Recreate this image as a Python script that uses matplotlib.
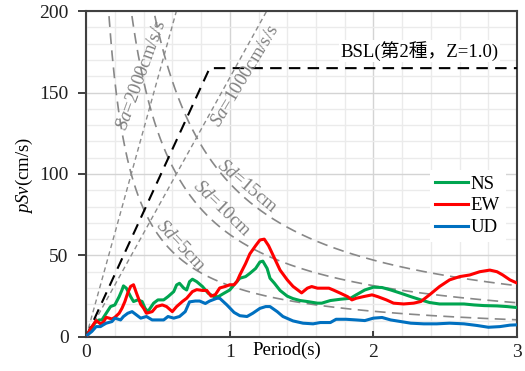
import numpy as np
import matplotlib
matplotlib.use("Agg")
import matplotlib.pyplot as plt
from matplotlib.ticker import MultipleLocator

plt.rcParams['font.family'] = ['Liberation Serif', 'Noto Sans CJK JP']
plt.rcParams['mathtext.fontset'] = 'custom'
plt.rcParams['mathtext.rm'] = 'Liberation Serif'
plt.rcParams['mathtext.it'] = 'Liberation Serif:italic'

# response spectra (pSv, cm/s)
ns_T = [0.01, 0.04, 0.06, 0.09, 0.11, 0.14, 0.17, 0.20, 0.23, 0.25, 0.26, 0.28, 0.31, 0.33, 0.36,
        0.39, 0.41, 0.43, 0.47, 0.50, 0.54, 0.57, 0.61, 0.63, 0.65, 0.68, 0.70, 0.72, 0.74, 0.77,
        0.81, 0.85, 0.89, 0.92, 0.96, 1.00, 1.03, 1.07, 1.11, 1.14, 1.18, 1.21, 1.23, 1.26, 1.28,
        1.31, 1.35, 1.40, 1.44, 1.49, 1.54, 1.61, 1.64, 1.70, 1.77, 1.84, 1.88, 1.94, 2.00, 2.06,
        2.12, 2.19, 2.26, 2.33, 2.39, 2.46, 2.53, 2.63, 2.70, 2.77, 2.86, 2.93, 3.00]
ns_psv = [1.0, 5.3, 8.4, 10.4, 10.4, 14.5, 18.6, 19.6, 24.7, 28.8, 31.3, 29.9, 24.7, 21.7, 22.7,
          21.7, 17.6, 15.5, 20.7, 22.7, 22.7, 24.7, 27.8, 31.9, 32.9, 29.9, 28.8, 33.9, 35.4, 33.9,
          30.9, 26.8, 24.7, 24.7, 26.8, 28.8, 32.0, 36.0, 37.0, 39.0, 42.0, 46.0, 46.5, 42.0, 36.0,
          33.0, 28.5, 25.0, 23.5, 22.3, 21.7, 20.7, 20.7, 22.3, 23.1, 23.7, 25.8, 28.8, 30.5, 30.3,
          28.8, 26.8, 24.7, 22.7, 21.1, 20.2, 20.2, 20.2, 19.6, 19.2, 19.0, 18.6, 18.0]

ew_T = [0.01, 0.03, 0.07, 0.10, 0.12, 0.14, 0.18, 0.20, 0.23, 0.25, 0.27, 0.29, 0.31, 0.33, 0.35,
        0.38, 0.40, 0.42, 0.46, 0.49, 0.53, 0.56, 0.60, 0.63, 0.67, 0.70, 0.74, 0.77, 0.81, 0.84,
        0.87, 0.90, 0.93, 0.97, 1.00, 1.03, 1.05, 1.07, 1.11, 1.14, 1.18, 1.21, 1.24, 1.27, 1.31,
        1.35, 1.40, 1.44, 1.50, 1.54, 1.57, 1.61, 1.64, 1.69, 1.72, 1.77, 1.82, 1.85, 1.88, 1.93,
        1.99, 2.03, 2.09, 2.14, 2.21, 2.28, 2.33, 2.39, 2.46, 2.53, 2.60, 2.67, 2.74, 2.81, 2.86,
        2.90, 2.95, 3.00]
ew_psv = [1.0, 5.0, 10.0, 8.0, 9.0, 12.0, 11.0, 12.0, 14.5, 17.6, 21.7, 27.0, 31.0, 32.0, 27.0,
          20.0, 17.6, 14.5, 15.5, 18.6, 19.6, 18.6, 15.5, 18.6, 21.7, 23.7, 27.8, 29.0, 28.5, 28.5,
          25.0, 26.0, 30.0, 31.0, 32.0, 32.0, 34.0, 38.0, 45.0, 51.0, 56.0, 59.5, 60.0, 56.0, 48.5,
          41.0, 35.0, 31.0, 27.0, 29.9, 30.9, 29.9, 29.9, 29.9, 28.8, 26.8, 24.7, 22.7, 23.7, 24.7,
          25.8, 24.7, 22.7, 20.7, 20.2, 20.7, 21.7, 25.8, 30.9, 35.0, 37.0, 38.0, 40.0, 41.0, 40.0,
          38.0, 35.0, 33.0]

ud_T = [0.01, 0.04, 0.07, 0.10, 0.12, 0.14, 0.18, 0.20, 0.24, 0.26, 0.29, 0.32, 0.35, 0.38, 0.42,
        0.46, 0.49, 0.54, 0.57, 0.61, 0.65, 0.69, 0.72, 0.76, 0.79, 0.83, 0.86, 0.91, 0.93, 0.98,
        1.03, 1.07, 1.12, 1.16, 1.21, 1.25, 1.28, 1.33, 1.37, 1.44, 1.51, 1.58, 1.63, 1.70, 1.74,
        1.81, 1.88, 1.94, 2.00, 2.06, 2.12, 2.19, 2.26, 2.35, 2.44, 2.53, 2.63, 2.72, 2.80, 2.88,
        2.95, 3.00]
ud_psv = [1.2, 3.3, 6.3, 6.3, 7.4, 8.4, 9.4, 11.5, 10.4, 12.5, 14.5, 15.5, 13.5, 11.5, 12.5,
          10.4, 10.4, 10.4, 12.5, 11.5, 12.5, 15.5, 21.5, 22.0, 22.0, 20.5, 22.0, 23.7, 23.7, 19.6,
          15.0, 13.0, 12.5, 14.5, 17.5, 18.6, 18.6, 15.5, 12.5, 9.8, 8.4, 8.0, 8.8, 8.8, 10.8,
          10.8, 10.4, 10.0, 11.5, 11.9, 10.4, 9.4, 8.4, 8.0, 8.0, 8.4, 8.0, 7.0, 5.9, 6.3,
          7.2, 7.4]

# design spectrum (BSL, type-2 soil, Z=1.0)
bsl_T = [0.0, 0.86, 3.0]
bsl_psv = [0.0, 165.0, 165.0]

# guide lines
sa_levels = [2000, 1000]   # cm/s/s
sd_levels = [5, 10, 15]    # cm

fig = plt.figure(figsize=(5.25, 3.71), dpi=100)
ax = fig.add_axes([0.164, 0.092, 0.821, 0.878])

T = np.linspace(0.001, 3, 600)
for sa in sa_levels:
    ax.plot(T, sa * T / (2 * np.pi), color='#8c8c8c', lw=1.0, dashes=(3.5, 2.5), zorder=2)
for sd in sd_levels:
    ax.plot(T, 2 * np.pi * sd / T, color='#888888', lw=1.2, dashes=(6.5, 3.8), zorder=2)

ax.plot(bsl_T, bsl_psv, color='black', lw=1.5, dashes=(5.5, 3.5), zorder=3)

ax.plot(ns_T, ns_psv, color='#00a550', lw=2.2, label='NS', zorder=4)
ax.plot(ew_T, ew_psv, color='#ff0000', lw=2.2, label='EW', zorder=4)
ax.plot(ud_T, ud_psv, color='#0070c0', lw=2.2, label='UD', zorder=4)

gray = '#808080'
ax.text(0.39, 160.7, r'$Sa$=2000cm/s/s', color=gray, fontsize=13.5, rotation=70,
        rotation_mode='anchor', ha='center', va='center')
ax.text(1.11, 160.0, r'$Sa$=1000cm/s/s', color=gray, fontsize=13.5, rotation=59,
        rotation_mode='anchor', ha='center', va='center')
ax.text(1.12, 92.6, r'$Sd$=15cm', color=gray, fontsize=13.5, rotation=-40,
        rotation_mode='anchor', ha='center', va='center')
ax.text(0.946, 78.5, r'$Sd$=10cm', color=gray, fontsize=13.5, rotation=-44,
        rotation_mode='anchor', ha='center', va='center')
ax.text(0.654, 55.8, r'$Sd$=5cm', color=gray, fontsize=13.5, rotation=-47,
        rotation_mode='anchor', ha='center', va='center')

ax.text(2.87, 175.5, 'BSL(第2種，Z=1.0)', fontsize=13.5, ha='right', va='center',
        family=['Liberation Serif', 'Noto Sans CJK JP'],
        bbox=dict(facecolor='white', edgecolor='none', pad=1), zorder=3)

ax.set_xlim(0, 3)
ax.set_ylim(0, 200)
ax.xaxis.set_major_locator(MultipleLocator(1))
ax.xaxis.set_minor_locator(MultipleLocator(0.2))
ax.yaxis.set_major_locator(MultipleLocator(50))
ax.yaxis.set_minor_locator(MultipleLocator(10))
ax.grid(which='major', color='#d4d4d4', lw=1.0)
ax.grid(which='minor', color='#ebebeb', lw=1.0)
ax.set_axisbelow(True)

ax.tick_params(axis='x', which='major', direction='in', length=4, width=1.2,
               labelsize=14, pad=5, colors='#202020')
ax.tick_params(axis='y', which='major', direction='out', length=6, width=1.2,
               labelsize=14, pad=6.5, colors='#202020')
ax.tick_params(which='minor', length=0)
for s in ax.spines.values():
    s.set_color('#404040')
    s.set_linewidth(1.5)

ax.set_xlabel('Period(s)', fontsize=13.5, va='center')
ax.xaxis.set_label_coords(0.466, -0.04)
ax.set_ylabel(r'$pSv$(cm/s)', fontsize=13.5, va='center')
ax.yaxis.set_label_coords(-0.142, 0.495)

leg = ax.legend(loc='center left', bbox_to_anchor=(0.797, 0.402), fontsize=13.5,
                frameon=True, fancybox=False, handlelength=1.75, handletextpad=0.15,
                labelspacing=0.25, borderpad=0.3, borderaxespad=0)
leg.get_frame().set_facecolor('white')
leg.get_frame().set_edgecolor('none')
leg.get_frame().set_alpha(1)
leg.set_zorder(5)

fig.savefig('out.png', dpi=100)
